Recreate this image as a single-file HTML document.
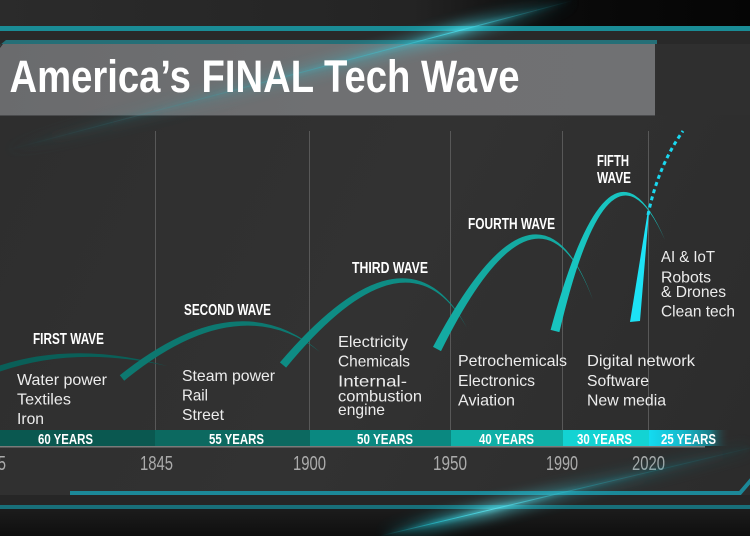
<!DOCTYPE html>
<html>
<head>
<meta charset="utf-8">
<style>
html,body{margin:0;padding:0;background:#2f2f2f;}
svg{display:block;}
text{font-family:"Liberation Sans", "DejaVu Sans", sans-serif;}
.it{font-size:16px;fill:#ececec;}
.wl{font-size:16px;font-weight:bold;fill:#ffffff;}
.bl{font-size:15px;font-weight:bold;fill:#ffffff;}
.yr{font-size:20px;fill:#ababab;}
</style>
</head>
<body>
<svg width="750" height="536" viewBox="0 0 750 536" xmlns="http://www.w3.org/2000/svg">
<defs>
  <linearGradient id="topband" x1="0" y1="0" x2="750" y2="0" gradientUnits="userSpaceOnUse">
    <stop offset="0" stop-color="#2b2b2b"/>
    <stop offset="0.55" stop-color="#242424"/>
    <stop offset="0.75" stop-color="#0a0a0a"/>
    <stop offset="1" stop-color="#050505"/>
  </linearGradient>
  <linearGradient id="banner" x1="0" y1="44" x2="655" y2="115" gradientUnits="userSpaceOnUse">
    <stop offset="0" stop-color="#6a6b6d"/>
    <stop offset="0.5" stop-color="#6f7072"/>
    <stop offset="1" stop-color="#707173"/>
  </linearGradient>
  <linearGradient id="beamTop" x1="0" y1="152" x2="575" y2="0" gradientUnits="userSpaceOnUse">
    <stop offset="0" stop-color="#2a8f99" stop-opacity="0"/>
    <stop offset="0.3" stop-color="#3a9aa4" stop-opacity="0.25"/>
    <stop offset="0.7" stop-color="#3cc8d8" stop-opacity="0.6"/>
    <stop offset="0.8" stop-color="#4fe0ee" stop-opacity="0.95"/>
    <stop offset="0.9" stop-color="#2aa0ad" stop-opacity="0.5"/>
    <stop offset="1" stop-color="#1a6c75" stop-opacity="0"/>
  </linearGradient>
  <linearGradient id="beamBot" x1="380" y1="536" x2="750" y2="448" gradientUnits="userSpaceOnUse">
    <stop offset="0" stop-color="#1cc0d0" stop-opacity="0"/>
    <stop offset="0.15" stop-color="#2ad4e4" stop-opacity="0.7"/>
    <stop offset="0.3" stop-color="#5ee6f2" stop-opacity="0.95"/>
    <stop offset="0.55" stop-color="#2ab0c0" stop-opacity="0.45"/>
    <stop offset="1" stop-color="#1a6c75" stop-opacity="0.1"/>
  </linearGradient>
  <linearGradient id="bar25" x1="648" y1="0" x2="730" y2="0" gradientUnits="userSpaceOnUse">
    <stop offset="0" stop-color="#14dcf2"/>
    <stop offset="0.45" stop-color="#16b6c8"/>
    <stop offset="0.75" stop-color="#1a7f8a"/>
    <stop offset="1" stop-color="#2f2f2f" stop-opacity="0"/>
  </linearGradient>
  <linearGradient id="bottomDark" x1="0" y1="509" x2="0" y2="536" gradientUnits="userSpaceOnUse">
    <stop offset="0" stop-color="#1c1c1c"/>
    <stop offset="1" stop-color="#0f0f0f"/>
  </linearGradient>
  <linearGradient id="mainbg" x1="0" y1="115" x2="750" y2="470" gradientUnits="userSpaceOnUse">
    <stop offset="0" stop-color="#2e2e2e"/>
    <stop offset="0.5" stop-color="#323232"/>
    <stop offset="1" stop-color="#2c2c2c"/>
  </linearGradient>
  <filter id="blur2" x="-20%" y="-20%" width="140%" height="140%"><feGaussianBlur stdDeviation="2.5"/></filter>
  <filter id="blur6" x="-20%" y="-50%" width="140%" height="200%"><feGaussianBlur stdDeviation="6"/></filter>
</defs>

<!-- backgrounds -->
<rect x="0" y="0" width="750" height="536" fill="url(#mainbg)"/>
<rect x="0" y="0" width="750" height="27" fill="url(#topband)"/>
<rect x="0" y="31" width="750" height="13" fill="#292929"/>
<rect x="657" y="44" width="93" height="71" fill="#2f2f2f"/>

<!-- top teal line -->
<rect x="0" y="26" width="750" height="5" fill="#1a8c96"/>

<!-- banner -->
<polygon points="6,40 657,40 657,44 1,44 0,46 0,45" fill="#256f77"/>
<polygon points="3,44 655,44 655,115 0,115 0,48" fill="url(#banner)"/>
<polygon points="0,115 655,115 655,116 0,116" fill="#4a4b4d"/>

<!-- top beam -->
<g clip-path="none">
  <line x1="0" y1="152" x2="575" y2="0" stroke="url(#beamTop)" stroke-width="14" filter="url(#blur6)" opacity="0.6"/>
  <line x1="0" y1="152" x2="575" y2="0" stroke="url(#beamTop)" stroke-width="2.5" filter="url(#blur2)"/>
  <line x1="0" y1="152" x2="575" y2="0" stroke="url(#beamTop)" stroke-width="1" opacity="0.8"/>
</g>

<!-- title -->
<text x="9.5" y="92" font-size="45" font-weight="bold" fill="#ffffff" textLength="510" lengthAdjust="spacingAndGlyphs">America’s FINAL Tech Wave</text>

<!-- gridlines -->
<g stroke="#585858" stroke-width="1">
  <line x1="155.5" y1="131" x2="155.5" y2="430"/>
  <line x1="309.5" y1="131" x2="309.5" y2="430"/>
  <line x1="450.5" y1="131" x2="450.5" y2="430"/>
  <line x1="562.5" y1="131" x2="562.5" y2="430"/>
  <line x1="648.5" y1="131" x2="648.5" y2="430"/>
</g>

<!-- waves -->
<path d="M-11.05 369.2 Q70 339 167 366 Q70 344 -8.9 374.8 Z" fill="#0a5f58"/>
<path d="M119.8 375.3 Q238 280.5 320 352 Q238 287.5 124.2 380.7 Z" fill="#0d7870"/>
<path d="M279.9 362.4 Q407 213.5 467 328 Q407 220.5 286.1 367.6 Z" fill="#0e8c84"/>
<path d="M433 346.9 Q538 148.5 593 300 Q538 155.5 441 351.1 Z" fill="#14aaa2"/>
<path d="M550.6 329.9 Q610 110.5 665 240 Q610 117.5 559.4 332.1 Z" fill="#18c4c0"/>

<!-- sixth wedge + dotted -->
<polygon points="630,322 640,321 648.8,214 647.4,214" fill="#1de2f5"/>
<path d="M648 215 Q658 166 683 131" fill="none" stroke="#1ad8f0" stroke-width="3" stroke-dasharray="4 3.5"/>

<!-- wave labels -->
<text class="wl" x="33" y="344" textLength="71" lengthAdjust="spacingAndGlyphs">FIRST WAVE</text>
<text class="wl" x="184" y="315" textLength="87" lengthAdjust="spacingAndGlyphs">SECOND WAVE</text>
<text class="wl" x="352" y="273" textLength="76" lengthAdjust="spacingAndGlyphs">THIRD WAVE</text>
<text class="wl" x="468" y="229" textLength="87" lengthAdjust="spacingAndGlyphs">FOURTH WAVE</text>
<text class="wl" x="597" y="166" textLength="32" lengthAdjust="spacingAndGlyphs">FIFTH</text>
<text class="wl" x="597" y="183" textLength="34" lengthAdjust="spacingAndGlyphs">WAVE</text>

<!-- items -->
<text class="it" x="17" y="385" textLength="90" lengthAdjust="spacingAndGlyphs">Water power</text>
<text class="it" x="17" y="404.5" textLength="54" lengthAdjust="spacingAndGlyphs">Textiles</text>
<text class="it" x="17" y="424" textLength="27" lengthAdjust="spacingAndGlyphs">Iron</text>

<text class="it" x="182" y="381" textLength="93" lengthAdjust="spacingAndGlyphs">Steam power</text>
<text class="it" x="182" y="400.5" textLength="26" lengthAdjust="spacingAndGlyphs">Rail</text>
<text class="it" x="182" y="420" textLength="42" lengthAdjust="spacingAndGlyphs">Street</text>

<text class="it" x="338" y="347" textLength="70" lengthAdjust="spacingAndGlyphs">Electricity</text>
<text class="it" x="338" y="366.5" textLength="72" lengthAdjust="spacingAndGlyphs">Chemicals</text>
<text class="it" x="338" y="386.5" textLength="69" lengthAdjust="spacingAndGlyphs">Internal-</text>
<text class="it" x="338" y="401.5" textLength="84" lengthAdjust="spacingAndGlyphs">combustion</text>
<text class="it" x="338" y="415" textLength="47" lengthAdjust="spacingAndGlyphs">engine</text>

<text class="it" x="458" y="366" textLength="109" lengthAdjust="spacingAndGlyphs">Petrochemicals</text>
<text class="it" x="458" y="386" textLength="77" lengthAdjust="spacingAndGlyphs">Electronics</text>
<text class="it" x="458" y="405.5" textLength="57" lengthAdjust="spacingAndGlyphs">Aviation</text>

<text class="it" x="587" y="366" textLength="108" lengthAdjust="spacingAndGlyphs">Digital network</text>
<text class="it" x="587" y="386" textLength="62" lengthAdjust="spacingAndGlyphs">Software</text>
<text class="it" x="587" y="405.5" textLength="79" lengthAdjust="spacingAndGlyphs">New media</text>

<text class="it" x="661" y="262" textLength="54" lengthAdjust="spacingAndGlyphs">AI &amp; IoT</text>
<text class="it" x="661" y="282.5" textLength="50" lengthAdjust="spacingAndGlyphs">Robots</text>
<text class="it" x="661" y="297" textLength="65" lengthAdjust="spacingAndGlyphs">&amp; Drones</text>
<text class="it" x="661" y="316.5" textLength="74" lengthAdjust="spacingAndGlyphs">Clean tech</text>

<!-- year bar -->
<rect x="0" y="430" width="155" height="16" fill="#0a5850"/>
<rect x="155" y="430" width="155" height="16" fill="#0c6960"/>
<rect x="310" y="430" width="141" height="16" fill="#0a8880"/>
<rect x="451" y="430" width="112" height="16" fill="#0fb0a7"/>
<rect x="563" y="430" width="86" height="16" fill="#13d3d3"/>
<rect x="649" y="430" width="85" height="16" fill="url(#bar25)"/>
<rect x="0" y="446" width="705" height="1.5" fill="#7a7a7a"/>

<text class="bl" x="38" y="444" textLength="55" lengthAdjust="spacingAndGlyphs">60 YEARS</text>
<text class="bl" x="209" y="444" textLength="55" lengthAdjust="spacingAndGlyphs">55 YEARS</text>
<text class="bl" x="357" y="444" textLength="56" lengthAdjust="spacingAndGlyphs">50 YEARS</text>
<text class="bl" x="479" y="444" textLength="55" lengthAdjust="spacingAndGlyphs">40 YEARS</text>
<text class="bl" x="577" y="444" textLength="55" lengthAdjust="spacingAndGlyphs">30 YEARS</text>
<text class="bl" x="661" y="444" textLength="55" lengthAdjust="spacingAndGlyphs">25 YEARS</text>

<!-- years -->
<text class="yr" x="-27" y="470" textLength="33" lengthAdjust="spacingAndGlyphs">1785</text>
<text class="yr" x="140" y="470" textLength="33" lengthAdjust="spacingAndGlyphs">1845</text>
<text class="yr" x="293" y="470" textLength="33" lengthAdjust="spacingAndGlyphs">1900</text>
<text class="yr" x="433" y="470" textLength="34" lengthAdjust="spacingAndGlyphs">1950</text>
<text class="yr" x="546" y="470" textLength="32" lengthAdjust="spacingAndGlyphs">1990</text>
<text class="yr" x="632" y="470" textLength="33" lengthAdjust="spacingAndGlyphs">2020</text>

<!-- bottom decoration -->
<rect x="0" y="495" width="750" height="10" fill="#262626"/>
<rect x="0" y="509" width="750" height="27" fill="url(#bottomDark)"/>
<polyline points="70,493 740,493 752,479" fill="none" stroke="#1c8898" stroke-width="4"/>
<rect x="0" y="505" width="750" height="4" fill="#186f79"/>

<!-- bottom beam -->
<line x1="380" y1="536" x2="750" y2="448" stroke="url(#beamBot)" stroke-width="14" filter="url(#blur6)" opacity="0.6"/>
<line x1="380" y1="536" x2="750" y2="448" stroke="url(#beamBot)" stroke-width="2.5" filter="url(#blur2)"/>
<line x1="380" y1="536" x2="750" y2="448" stroke="url(#beamBot)" stroke-width="1" opacity="0.8"/>
</svg>
</body>
</html>
